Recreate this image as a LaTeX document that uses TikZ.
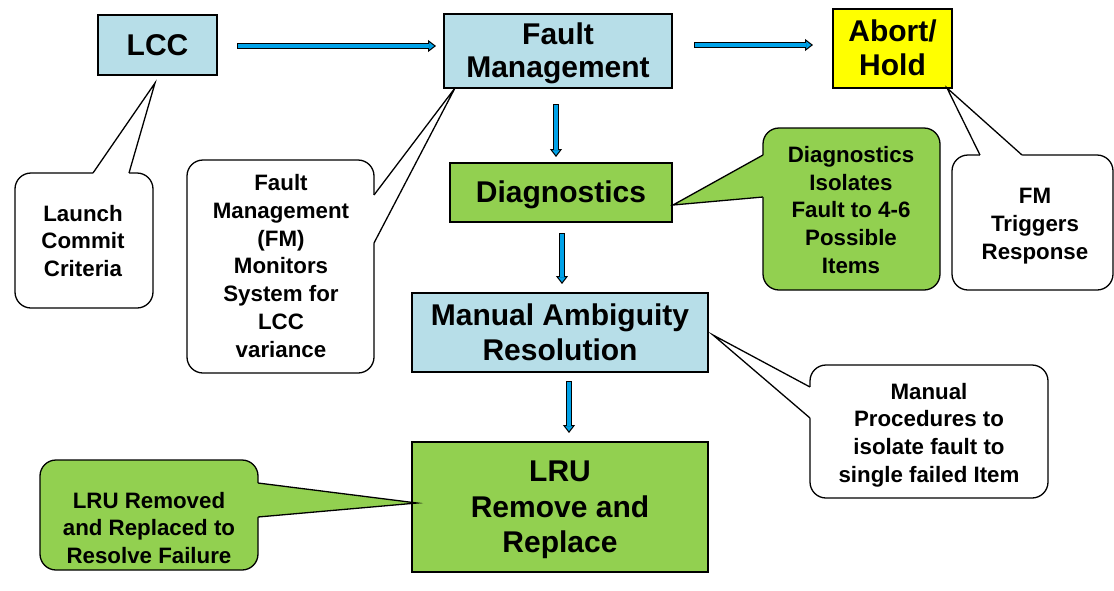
\documentclass[tikz,border=0pt]{standalone}
\usepackage{fontspec}
\setmainfont{Liberation Sans}
\usetikzlibrary{calc,arrows.meta}
\definecolor{boxblue}{HTML}{B7DEE8}
\definecolor{boxgreen}{HTML}{92D050}
\definecolor{boxyellow}{HTML}{FFFF00}
\definecolor{arrblue}{HTML}{00A2E8}
\newcommand{\tstrut}{\rule{0pt}{0.905em}}
\newcommand{\bstrut}{\rule[-0.212em]{0pt}{0.212em}}
\tikzset{
  mainbox/.style={draw=black, line width=1.3pt, align=center,
    font=\fontsize{30}{34}\selectfont\bfseries, inner sep=0pt},
  callbox/.style={draw=black, line width=1.3pt, rounded corners=16pt, inner sep=0pt},
  calltext/.style={align=center, font=\fontsize{22.3}{27.7}\selectfont\bfseries, inner sep=0pt},
  pointerline/.style={draw=black, line width=1.3pt, line join=miter},
}
\newcommand{\blkarrow}[2]{%
  \draw[line width=6pt, black, shorten >=7pt] (#1) -- (#2);
  \draw[line width=1pt, black, line join=miter,
        -{Triangle[width=12pt,length=8pt,fill=arrblue]}] ($(#2)!9pt!(#1)$) -- (#2);
  \draw[line width=3.8pt, arrblue, shorten >=7pt, shorten <=1.1pt] (#1) -- (#2);
}
\begin{document}
\begin{tikzpicture}[x=1pt,y=-1pt]
\useasboundingbox (0,0) rectangle (1114,590);
\fill[white] (0,0) rectangle (1114,590);

% main boxes
\node[mainbox, fill=boxblue, minimum width=119, minimum height=60] (lcc) at (157.5,45) {\tstrut LCC\bstrut};
\node[mainbox, fill=boxblue, minimum width=228, minimum height=74,
      font=\fontsize{30}{33}\selectfont\bfseries] (fm) at (558,51) {\tstrut Fault\\Management\bstrut};
\node[mainbox, fill=boxyellow, minimum width=119, minimum height=79,
      font=\fontsize{30}{34}\selectfont\bfseries] (abort) at (892.5,48.5) {\tstrut Abort/\\Hold\bstrut};
\node[mainbox, fill=boxgreen, minimum width=222, minimum height=59] (diag) at (561,192.5) {\tstrut Diagnostics\bstrut};
\node[mainbox, fill=boxblue, minimum width=296, minimum height=79,
      font=\fontsize{30}{35}\selectfont\bfseries] (mar) at (560,332.5) {\tstrut Manual Ambiguity\\Resolution\bstrut};
\node[mainbox, fill=boxgreen, minimum width=296, minimum height=130,
      font=\fontsize{30}{35.5}\selectfont\bfseries] (lru) at (560,507) {\tstrut LRU\\Remove and\\Replace\bstrut};

% arrows
\coordinate (a1s) at (237,46);  \coordinate (a1e) at (436,46);
\coordinate (a2s) at (694,45);  \coordinate (a2e) at (813,45);
\coordinate (a3s) at (556,104); \coordinate (a3e) at (556,157);
\coordinate (a4s) at (562,233); \coordinate (a4e) at (562,284);
\coordinate (a5s) at (569,381); \coordinate (a5e) at (569,433);
\blkarrow{a1s}{a1e}
\blkarrow{a2s}{a2e}
\blkarrow{a3s}{a3e}
\blkarrow{a4s}{a4e}
\blkarrow{a5s}{a5e}

% callout: Launch Commit Criteria (pointer on top edge)
\node[callbox, fill=white, minimum width=138, minimum height=135] (lcccall) at (84,240.5) {};
\node[calltext] (lcctext) at (83,241) {Launch\\Commit\\Criteria};
\coordinate (t1) at (155,83);
\fill[white] (93,175) -- (93,173) -- (t1) -- (129,173) -- (129,175) -- cycle;
\draw[pointerline] (93,173) -- (t1) -- (129,173);

% callout: FM monitors (pointer on right edge)
\node[callbox, fill=white, minimum width=187, minimum height=213] (fmcall) at (280.5,266.5) {};
\node[calltext] (fmtext) at (281,266) {Fault\\Management\\(FM)\\Monitors\\System for\\LCC\\variance};
\coordinate (t2) at (455,88);
\fill[white] (372,195) -- (374,195) -- (t2) -- (374,243) -- (372,243) -- cycle;
\draw[pointerline] (374,195) -- (t2) -- (374,243);

% callout: FM Triggers Response (pointer on top edge)
\node[callbox, fill=white, minimum width=161, minimum height=135] (trigcall) at (1032.5,222.5) {};
\node[calltext] (trigtext) at (1035,226) {FM\\Triggers\\Response};
\coordinate (t3) at (947,88);
\fill[white] (980,157) -- (980,155) -- (t3) -- (1022,155) -- (1022,157) -- cycle;
\draw[pointerline] (980,155) -- (t3) -- (1022,155);

% callout: Diagnostics isolates (pointer on left edge)
\node[callbox, fill=boxgreen, minimum width=177, minimum height=162] (diagcall) at (851.5,209) {};
\node[calltext] (diagtext) at (851,210) {Diagnostics\\Isolates\\Fault to 4-6\\Possible\\Items};
\coordinate (t4) at (673,205);
\fill[boxgreen] (765,155) -- (763,155) -- (t4) -- (763,197) -- (765,197) -- cycle;
\draw[pointerline] (763,155) -- (t4) -- (763,197);

% callout: Manual procedures (pointer on left edge)
\node[callbox, fill=white, minimum width=238, minimum height=133] (mancall) at (929,431.5) {};
\node[calltext] (mantext) at (929,435) {Manual\\Procedures to\\isolate fault to\\single failed Item};
\coordinate (t5) at (713,335);
\fill[white] (812,387) -- (810,387) -- (t5) -- (810,418) -- (812,418) -- cycle;
\draw[pointerline] (810,387) -- (t5) -- (810,418);

% callout: LRU removed (pointer on right edge)
\node[callbox, fill=boxgreen, minimum width=218, minimum height=110] (lrucall) at (149,515) {};
\node[calltext] (lrutext) at (149,528) {LRU Removed\\and Replaced to\\Resolve Failure};
\coordinate (t6) at (417,503);
\fill[boxgreen] (256,483) -- (258,483) -- (t6) -- (258,517) -- (256,517) -- cycle;
\draw[pointerline] (258,483) -- (t6) -- (258,517);
\end{tikzpicture}
\end{document}
